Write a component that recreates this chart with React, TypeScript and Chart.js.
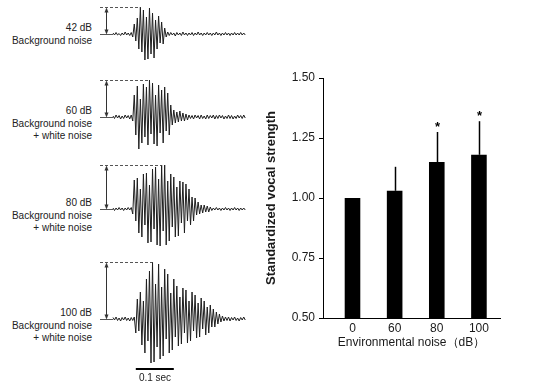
import React, { useEffect, useRef } from 'react';
import { Chart, registerables } from 'chart.js';

Chart.register(...registerables);
Chart.defaults.font.family = '"Liberation Sans", Arial, sans-serif';

// ---------- waveform data (amplitude samples, one every SAMPLE_MS) ----------
const SAMPLE_MS = 4;
const wave42 = [
  1, -1, 1.5, -1, 0.5, -1.5, 1, -1, 2, -1, 1, -1.5, 1.5,
  -3, 10, -7, 16, -15, 27, -18, 24, -26, 17, -25, 26, -20, 21, -24, 14, -15, 18, -9, 12, -10, 6, -3,
  2, -1.5, 1.5, -1, 1, -2, 1.5, -1, 1, -1.5, 2, -1, 1, -1.5, 1, -1, 1.5, -1.5, 1, -1,
  2, -1, 1, -1.5, 1, -1, 1.5, -1, 1, -1.5, 1, -1, 2, -1, 1, -1.5, 1, -1, 1.5, -1,
  1, -1.5, 1, -1, 1.5, -1, 1, -1, 1.5, -1, 1, -1,
];
const wave60 = [
  1, -1.5, 2, -1, 1.5, -2, 1, -1.5, 2, -1, 1.5, -2, 2,
  -4, 22, -18, 31, -32, 18, -26, 33, -20, 30, -28, 37, -17, 34, -27, 22, -29, 32, -16, 27, -26, 30, -14, 24, -18, 12, -8,
  7, -6, 5, -5, 6, -4, 4, -4, 3, -3,
  2, -1.5, 1.5, -2, 2, -1, 1.5, -2, 2, -1.5, 1, -2, 2, -1.5, 1.5, -1, 2, -2, 1.5, -1.5,
  2, -1, 1.5, -2, 1, -1.5, 2, -1.5, 1.5, -2, 1, -1.5, 2, -1, 1.5, -1.5, 2, -1,
];
const wave80 = [
  1, -1.5, 1, -1, 1.5, -1, 1, -1.5, 1, -1, 1.5, -1, 1.5,
  -5, 29, -12, 31, -24, 20, -28, 35, -16, 36, -34, 24, -33, 40, -20, 42, -36, 30, -37, 44, -22, 44, -36, 28,
  -32, 35, -18, 32, -28, 22, -27, 28, -14, 27, -24, 25, -12, 20, -16, 12, -12, 11, -6, 7, -5, 4,
  -4, 4, -3, 3, -3, 2,
  -1.5, 1, -1, 1.5, -1, 1, -1.5, 1, -1, 1.5, -1, 1, -1.5, 1, -1, 1.5, -1, 1, -1.5, 1, -1, 1, -1,
];
const wave100 = [
  1.5, -1, 2, -1.5, 1, -2, 1.5, -1, 2, -1.5, 1, -2, 1.5, -1.5, 2,
  -14, 20, -12, 27, -26, 18, -34, 40, -22, 48, -44, 57, -43, 35, -28, 55, -40, 32, -37, 50, -20, 45, -34, 26,
  -31, 40, -18, 33, -27, 22, -25, 31, -14, 29, -24, 18, -22, 27, -12, 24, -19, 16, -18, 21, -10, 18, -16, 12,
  -14, 14, -8, 10, -8, 7, -5, 5, -3, 3,
  -2, 2, -1.5, 2, -2, 1.5, -1, 2, -1.5, 1, -2, 1.5, -1, 2, -1,
];
const waveLabels = [
  ['42 dB', 'Background noise'],
  ['60 dB', 'Background noise', '+ white noise'],
  ['80 dB', 'Background noise', '+ white noise'],
  ['100 dB', 'Background noise', '+ white noise'],
];
const scaleBarText = '0.1 sec';
const SCALE_BAR_MS = [60, 160];

// ---------- bar chart data ----------
const noiseLevels = ['0', '60', '80', '100'];
const strengthValues = [1.0, 1.03, 1.15, 1.18];
const strengthErrors = [0, 0.1, 0.125, 0.14];
const significant = [false, false, true, true];
const yTickValues = [0.5, 0.75, 1.0, 1.25, 1.5];
const xTitle = 'Environmental noise（dB）';
const yTitle = 'Standardized vocal strength';

const PX_PER_MS = 0.38;
const X_MIN = -13 / PX_PER_MS;
const X_MAX = X_MIN + 150 / PX_PER_MS;

type WaveProps = {
  values: number[];
  top: number;
  height: number;
  yMax: number;
  scaleBarY?: number;
};

function Waveform({ values, top, height, yMax, scaleBarY }: WaveProps) {
  const ref = useRef<HTMLCanvasElement>(null);
  useEffect(() => {
    if (!ref.current) return;
    const pts = values.map((v, i) => ({ x: i * SAMPLE_MS, y: v }));
    const peak = Math.max(...values);
    const peakIdx = values.indexOf(peak);
    const annot = {
      id: 'annot',
      afterDatasetsDraw(chart: any) {
        const { ctx } = chart;
        const xs = chart.scales.x;
        const ys = chart.scales.y;
        const y0 = Math.round(ys.getPixelForValue(0)) + 0.5;
        const yp = Math.round(ys.getPixelForValue(peak)) + 0.5;
        const xStart = xs.getPixelForValue(0);
        const xPeak = xs.getPixelForValue(peakIdx * SAMPLE_MS);
        ctx.save();
        ctx.strokeStyle = '#555';
        ctx.fillStyle = '#333';
        ctx.lineWidth = 1;
        ctx.beginPath();
        ctx.moveTo(0, y0);
        ctx.lineTo(xStart, y0);
        ctx.stroke();
        ctx.setLineDash([3, 2]);
        ctx.beginPath();
        ctx.moveTo(0, yp);
        ctx.lineTo(xPeak, yp);
        ctx.stroke();
        ctx.setLineDash([]);
        const ax = 6.5;
        ctx.strokeStyle = '#333';
        ctx.beginPath();
        ctx.moveTo(ax, yp + 2);
        ctx.lineTo(ax, y0 - 2);
        ctx.stroke();
        ctx.beginPath();
        ctx.moveTo(ax, yp);
        ctx.lineTo(ax - 2, yp + 5);
        ctx.lineTo(ax + 2, yp + 5);
        ctx.closePath();
        ctx.fill();
        ctx.beginPath();
        ctx.moveTo(ax, y0);
        ctx.lineTo(ax - 2, y0 - 5);
        ctx.lineTo(ax + 2, y0 - 5);
        ctx.closePath();
        ctx.fill();
        if (scaleBarY !== undefined) {
          const sy = ys.getPixelForValue(scaleBarY);
          ctx.strokeStyle = '#000';
          ctx.lineWidth = 2;
          ctx.beginPath();
          ctx.moveTo(xs.getPixelForValue(SCALE_BAR_MS[0]), sy);
          ctx.lineTo(xs.getPixelForValue(SCALE_BAR_MS[1]), sy);
          ctx.stroke();
        }
        ctx.restore();
      },
    };
    const chart = new Chart(ref.current, {
      type: 'line',
      data: {
        datasets: [
          {
            data: pts,
            borderColor: '#1e1e1e',
            borderWidth: 1,
            pointRadius: 0,
            tension: 0,
            clip: false as any,
          },
        ],
      },
      options: {
        animation: false,
        responsive: false,
        maintainAspectRatio: false,
        events: [],
        layout: { padding: 0 },
        plugins: { legend: { display: false }, tooltip: { enabled: false } },
        scales: {
          x: { type: 'linear', min: X_MIN, max: X_MAX, display: false },
          y: { type: 'linear', min: yMax - height, max: yMax, display: false },
        },
      },
      plugins: [annot],
    });
    return () => chart.destroy();
  }, [values, top, height, yMax, scaleBarY]);
  return (
    <canvas
      ref={ref}
      width={150}
      height={height}
      style={{ position: 'absolute', left: 100, top, width: 150, height }}
    />
  );
}

function BarChart() {
  const ref = useRef<HTMLCanvasElement>(null);
  useEffect(() => {
    if (!ref.current) return;
    const tickFont = { size: 12 };
    const errPlugin = {
      id: 'errbars',
      afterDatasetsDraw(chart: any) {
        const { ctx } = chart;
        const xs = chart.scales.x;
        const ys = chart.scales.y;
        ctx.save();
        strengthValues.forEach((v, i) => {
          const x = Math.round(xs.getPixelForValue(i)) + 0.5;
          const top = ys.getPixelForValue(v + strengthErrors[i]);
          if (strengthErrors[i] > 0) {
            ctx.strokeStyle = '#000';
            ctx.lineWidth = 1.5;
            ctx.beginPath();
            ctx.moveTo(x, ys.getPixelForValue(v));
            ctx.lineTo(x, top);
            ctx.stroke();
          }
          if (significant[i]) {
            ctx.fillStyle = '#000';
            ctx.font = 'bold 13px "Liberation Sans", Arial, sans-serif';
            ctx.textAlign = 'center';
            ctx.textBaseline = 'alphabetic';
            ctx.fillText('*', x, top - 1);
          }
        });
        ctx.restore();
      },
    };
    const chart = new Chart(ref.current, {
      type: 'bar',
      data: {
        datasets: [
          {
            data: noiseLevels.map((_, i) => ({ x: i, y: strengthValues[i] })) as any,
            backgroundColor: '#000',
            borderWidth: 0,
            barPercentage: 0.37,
            categoryPercentage: 1,
          },
        ],
      },
      options: {
        animation: false,
        responsive: false,
        maintainAspectRatio: false,
        events: [],
        layout: { padding: { top: 18, right: 35, bottom: 10, left: 0 } },
        plugins: { legend: { display: false }, tooltip: { enabled: false } },
        scales: {
          x: {
            type: 'linear',
            offset: false,
            min: -0.7,
            max: 3.5,
            grid: { display: false, drawTicks: false },
            border: { display: true, color: '#000', width: 1 },
            afterBuildTicks: (s: any) => {
              s.ticks = noiseLevels.map((_, i) => ({ value: i }));
            },
            afterFit: (s: any) => {
              s.height = 32;
            },
            ticks: {
              callback: (v: any) => noiseLevels[v as number] ?? '',
              font: tickFont,
              color: '#1a1a1a',
              padding: 3,
              autoSkip: false,
              maxRotation: 0,
            },
            title: {
              display: true,
              text: xTitle,
              font: { size: 12 },
              color: '#1a1a1a',
              padding: 0,
            },
          },
          y: {
            type: 'linear',
            min: 0.5,
            max: 1.5,
            afterBuildTicks: (s: any) => {
              s.ticks = yTickValues.map((v) => ({ value: v }));
            },
            afterFit: (s: any) => {
              s.width = 63;
            },
            grid: { drawOnChartArea: false, drawTicks: true, tickLength: 4, color: '#000' },
            border: { display: true, color: '#000', width: 1 },
            ticks: {
              callback: (v: any) => Number(v).toFixed(2),
              font: tickFont,
              color: '#1a1a1a',
              padding: 4,
            },
            title: {
              display: true,
              text: yTitle,
              font: { size: 13, weight: 'bold' },
              color: '#1a1a1a',
              padding: { top: 4, bottom: 0 },
            },
          },
        },
      },
      plugins: [errPlugin],
    });
    return () => chart.destroy();
  }, []);
  return (
    <canvas
      ref={ref}
      width={275}
      height={300}
      style={{ position: 'absolute', left: 260, top: 60, width: 275, height: 300 }}
    />
  );
}

const labelStyle: React.CSSProperties = {
  position: 'absolute',
  left: 0,
  width: 92,
  textAlign: 'right',
  fontFamily: '"Liberation Sans", Arial, sans-serif',
  fontSize: 10,
  lineHeight: '12.5px',
  color: '#222',
  whiteSpace: 'nowrap',
};

const labelTops = [22, 105, 197, 307];

export default function App() {
  return (
    <div
      style={{
        position: 'absolute',
        left: 0,
        top: 0,
        width: 535,
        height: 392,
        background: '#fff',
        overflow: 'hidden',
      }}
    >
      <Waveform values={wave42} top={0} height={70} yMax={34} />
      <Waveform values={wave60} top={68} height={92} yMax={49} />
      <Waveform values={wave80} top={155} height={105} yMax={54} />
      <Waveform values={wave100} top={255} height={120} yMax={64} scaleBarY={-50} />
      {waveLabels.map((lines, k) => (
        <div key={k} style={{ ...labelStyle, top: labelTops[k] }}>
          {lines.map((l, j) => (
            <div key={j}>{l}</div>
          ))}
        </div>
      ))}
      <div
        style={{
          ...labelStyle,
          left: 125,
          width: 60,
          textAlign: 'center',
          top: 372,
        }}
      >
        {scaleBarText}
      </div>
      <BarChart />
    </div>
  );
}
